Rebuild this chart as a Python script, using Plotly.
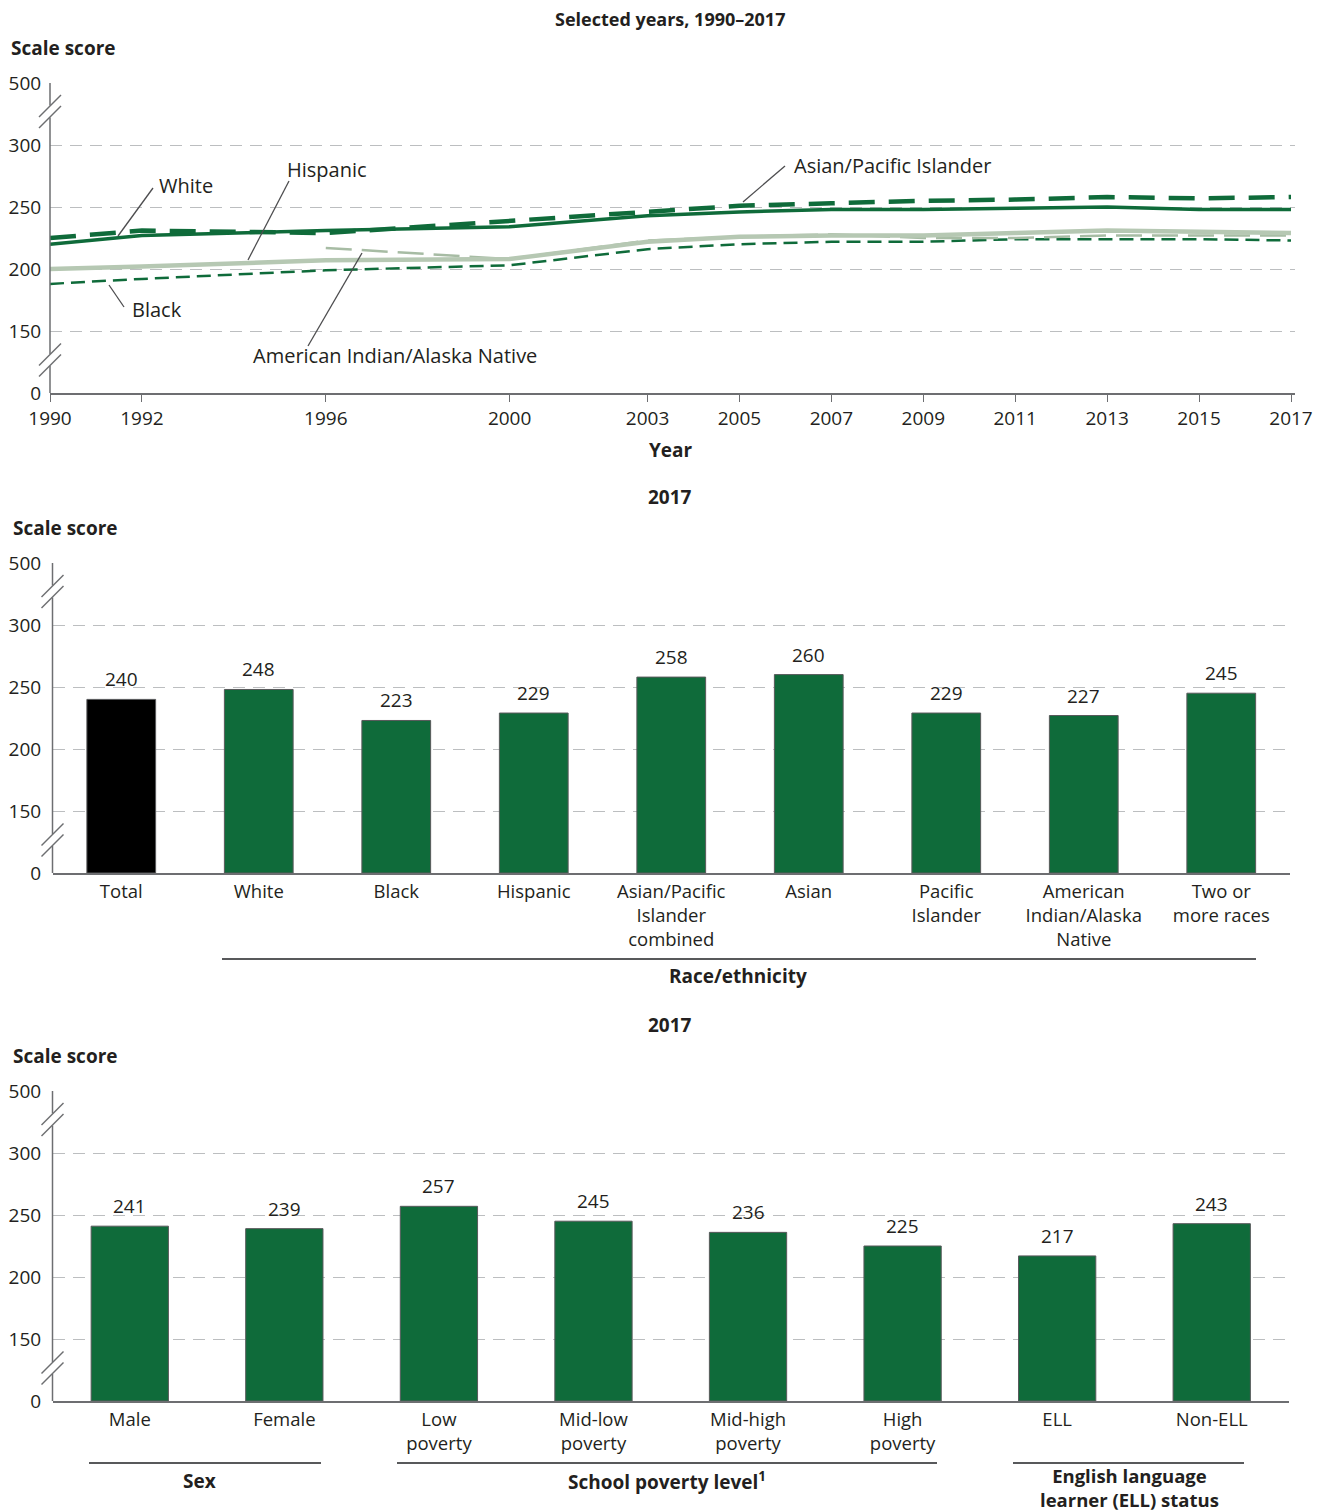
import plotly.graph_objects as go

W, H = 1325, 1512
OFF = 8  # page offset of the figure inside the browser window

# ---------------- data ----------------
years = [1990, 1992, 1996, 2000, 2003, 2005, 2007, 2009, 2011, 2013, 2015, 2017]
white = [220, 227, 231, 234, 243, 246, 248, 248, 249, 250, 248, 248]
black = [188, 192, 199, 203, 216, 220, 222, 222, 224, 224, 224, 223]
hispanic = [200, 202, 207, 208, 222, 226, 227, 227, 229, 231, 230, 229]
asian_pi = [225, 231, 229, None, 246, 251, 253, 255, 256, 258, 257, 258]
am_indian = [None, None, 217, 208, 223, 226, 228, 225, 225, 227, 227, 227]

race_labels = ["Total", "White", "Black", "Hispanic", "Asian/Pacific<br>Islander<br>combined",
               "Asian", "Pacific<br>Islander", "American<br>Indian/Alaska<br>Native", "Two or<br>more races"]
race_values = [240, 248, 223, 229, 258, 260, 229, 227, 245]

group_labels = ["Male", "Female", "Low<br>poverty", "Mid-low<br>poverty", "Mid-high<br>poverty",
                "High<br>poverty", "ELL", "Non-ELL"]
group_values = [241, 239, 257, 245, 236, 225, 217, 243]

y_tick_values = [0, 150, 200, 250, 300, 500]

# ---------------- styling ----------------
FONT = "Open Sans"
TXT = "#231f20"
AX = "#6d6e71"
GRID = "#bcbec0"
DKGREEN = "#0f6b3a"
LTGREEN = "#b6c8b3"
LTGREEN2 = "#a7bca4"
LBL = 20     # line label font
CAT = 18.5   # category label font
TICK = 19    # tick font
BOLD = 19    # bold titles


def ty(v):
    """Broken-axis transform: 0-150, 150-300 linear, 300-500."""
    if v is None:
        return None
    if v <= 150:
        return v / 150.0
    if v <= 300:
        return 1 + (v - 150) / 50.0
    return 4 + (v - 300) / 200.0


def px(x):
    return (x - OFF) / W


def py(y):
    return 1 - (y - OFF) / H


fig = go.Figure()

# ---------------- panel 1: lines ----------------
line_specs = [
    (black, "Black", DKGREEN, 2.5, "14px,7px"),
    (am_indian, "American Indian/Alaska Native", LTGREEN2, 2.5, "26px,10px"),
    (hispanic, "Hispanic", LTGREEN, 4.5, "solid"),
    (white, "White", DKGREEN, 3.5, "solid"),
    (asian_pi, "Asian/Pacific Islander", DKGREEN, 4.5, "26px,14px"),
]
for vals, name, col, w, dash in line_specs:
    fig.add_trace(go.Scatter(
        x=years, y=[ty(v) for v in vals], mode="lines", name=name,
        line=dict(color=col, width=w, dash=dash), connectgaps=True,
        xaxis="x", yaxis="y", showlegend=False, hoverinfo="skip"))

# ---------------- panel 2: race bars ----------------
fig.add_trace(go.Bar(
    x=list(range(len(race_values))), y=[ty(v) for v in race_values], width=0.5,
    marker=dict(color=["#000000"] + [DKGREEN] * (len(race_values) - 1),
                line=dict(color="#58595b", width=1)),
    xaxis="x2", yaxis="y2", showlegend=False, hoverinfo="skip"))

# ---------------- panel 3: group bars ----------------
fig.add_trace(go.Bar(
    x=list(range(len(group_values))), y=[ty(v) for v in group_values], width=0.5,
    marker=dict(color=DKGREEN, line=dict(color="#58595b", width=1)),
    xaxis="x3", yaxis="y3", showlegend=False, hoverinfo="skip"))

tickfont = dict(family=FONT, size=TICK, color=TXT)
catfont = dict(family=FONT, size=CAT, color=TXT)


def yaxis_dict(top, bottom):
    return dict(domain=[py(bottom), py(top)], range=[0, 5],
                tickvals=[ty(v) for v in y_tick_values],
                ticktext=[str(v) for v in y_tick_values],
                showgrid=True, gridcolor=GRID, gridwidth=1, griddash="12px,8px",
                ticks="outside", ticklen=4, tickcolor="rgba(0,0,0,0)",
                showline=False, zeroline=False, tickfont=tickfont, fixedrange=True,
                automargin=False)


# panel pixel geometry (window pixels)
P1 = dict(left=50, right=1295, top=83, bottom=393)
P2 = dict(left=52.5, right=1290, top=563, bottom=873)
P3 = dict(left=52.5, right=1289, top=1091, bottom=1401)

fig.update_layout(
    width=W, height=H, margin=dict(l=0, r=0, t=0, b=0, autoexpand=False),
    paper_bgcolor="white", plot_bgcolor="white",
    font=dict(family=FONT, size=LBL, color=TXT),
    xaxis=dict(domain=[px(P1["left"]), px(P1["right"])], range=[1990, 2017 + 4 / 45.96],
               tickvals=years, ticktext=[str(y) for y in years],
               ticks="outside", ticklen=7, tickcolor=AX, tickwidth=1.2,
               showline=True, linecolor=AX, linewidth=1.5, showgrid=False, zeroline=False,
               anchor="y", tickfont=tickfont, fixedrange=True, automargin=False),
    yaxis=yaxis_dict(P1["top"], P1["bottom"]),
    xaxis2=dict(domain=[px(P2["left"]), px(P2["right"])], range=[-0.5, len(race_values) - 0.5],
                tickvals=list(range(len(race_labels))), ticktext=race_labels,
                ticks="outside", ticklen=1, tickcolor="rgba(0,0,0,0)",
                showline=True, linecolor=AX, linewidth=1.5, showgrid=False, zeroline=False,
                anchor="y2", tickfont=catfont, fixedrange=True, automargin=False),
    yaxis2=yaxis_dict(P2["top"], P2["bottom"]),
    xaxis3=dict(domain=[px(P3["left"]), px(P3["right"])], range=[-0.5, len(group_values) - 0.5],
                tickvals=list(range(len(group_labels))), ticktext=group_labels,
                ticks="outside", ticklen=1, tickcolor="rgba(0,0,0,0)",
                showline=True, linecolor=AX, linewidth=1.5, showgrid=False, zeroline=False,
                anchor="y3", tickfont=catfont, fixedrange=True, automargin=False),
    yaxis3=yaxis_dict(P3["top"], P3["bottom"]),
)

shapes = []
annotations = []


def add_line(x0, y0, x1, y1, color=AX, width=1.5):
    shapes.append(dict(type="line", xref="paper", yref="paper",
                       x0=px(x0), y0=py(y0), x1=px(x1), y1=py(y1),
                       line=dict(color=color, width=width)))


def add_text(x, y, text, size=LBL, bold=False, xanchor="center", yanchor="middle"):
    if bold:
        text = "<b>" + text + "</b>"
    annotations.append(dict(xref="paper", yref="paper", x=px(x), y=py(y), text=text,
                            showarrow=False, xanchor=xanchor, yanchor=yanchor,
                            font=dict(family=FONT, size=size, color=TXT)))


def broken_axis(P):
    ax = P["left"]
    ub = P["top"] + 28.5
    lb = P["bottom"] - 33
    g = 6
    add_line(ax, P["top"], ax, ub - g)
    add_line(ax, ub + g, ax, lb - g)
    add_line(ax, lb + g, ax, P["bottom"])
    for b in (ub, lb):
        add_line(ax - 11, b - 5.5 + 11, ax + 11, b - 5.5 - 11, width=1.4)
        add_line(ax - 11, b + 5.5 + 11, ax + 11, b + 5.5 - 11, width=1.4)


for P in (P1, P2, P3):
    broken_axis(P)

# titles
add_text(670, 19, "Selected years, 1990–2017", size=18, bold=True)
add_text(9, 48, "Scale score", size=BOLD, bold=True, xanchor="left")
add_text(671, 450, "Year", size=BOLD, bold=True)
add_text(670, 497, "2017", size=BOLD, bold=True)
add_text(11, 528, "Scale score", size=BOLD, bold=True, xanchor="left")
add_text(670, 1025, "2017", size=BOLD, bold=True)
add_text(11, 1056, "Scale score", size=BOLD, bold=True, xanchor="left")

# line labels with leaders
LEAD = "#4d4d4f"
add_line(118, 236, 153, 188, color=LEAD, width=1.3)
add_text(157, 186, "White", xanchor="left")
add_line(248, 260, 289, 181, color=LEAD, width=1.3)
add_text(285, 169, "Hispanic", xanchor="left")
add_line(109, 285, 124, 307, color=LEAD, width=1.3)
add_text(130, 309, "Black", xanchor="left")
add_line(362, 253, 308, 346, color=LEAD, width=1.3)
add_text(251, 356, "American Indian/Alaska Native", xanchor="left")
add_line(743, 202, 785, 166, color=LEAD, width=1.3)
add_text(792, 165, "Asian/Pacific Islander", xanchor="left")

# bar value labels (anchored to the data)
for i, v in enumerate(race_values):
    annotations.append(dict(xref="x2", yref="y2", x=i, y=ty(v), text=str(v), showarrow=False,
                            yanchor="bottom", yshift=5, font=dict(family=FONT, size=TICK, color=TXT)))
for i, v in enumerate(group_values):
    annotations.append(dict(xref="x3", yref="y3", x=i, y=ty(v), text=str(v), showarrow=False,
                            yanchor="bottom", yshift=5, font=dict(family=FONT, size=TICK, color=TXT)))

# group separators
add_line(222, 959, 1256, 959, color="#58595b", width=2)
add_text(738, 976, "Race/ethnicity", size=BOLD, bold=True)
add_line(89, 1463, 321, 1463, color="#58595b", width=2)
add_text(199, 1481, "Sex", size=BOLD, bold=True)
add_line(397, 1463, 937, 1463, color="#58595b", width=2)
add_text(667, 1481, "School poverty level<sup>1</sup>", size=BOLD, bold=True)
add_line(1013, 1463, 1244, 1463, color="#58595b", width=2)
add_text(1129, 1487, "English language<br>learner (ELL) status", size=18.5, bold=True)

fig.update_layout(shapes=shapes, annotations=annotations)

fig.write_html("out.html")
